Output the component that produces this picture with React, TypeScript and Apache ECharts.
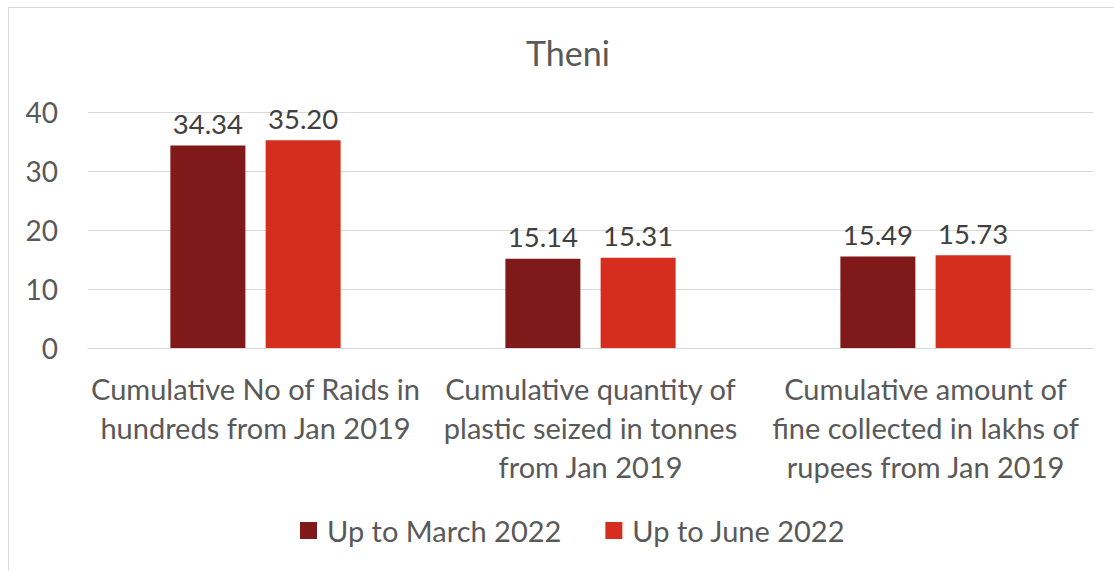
import React, { useEffect, useRef } from "react";
import * as echarts from "echarts";

const categories = [
  "Cumulative No of Raids in\nhundreds from Jan 2019",
  "Cumulative quantity of\nplastic seized in tonnes\nfrom Jan 2019",
  "Cumulative amount of\nfine collected in lakhs of\nrupees from Jan 2019",
];
const seriesNames = ["Up to March 2022", "Up to June 2022"];
const march2022 = [34.34, 15.14, 15.49];
const june2022 = [35.2, 15.31, 15.73];
const yTicks = { min: 0, max: 40, interval: 10 };

const FONT = "Lato, 'Open Sans', sans-serif";
const TEXT = "#595959";

export default function App() {
  const ref = useRef<HTMLDivElement>(null);
  useEffect(() => {
    if (!ref.current) return;
    const chart = echarts.init(ref.current, undefined, { renderer: "svg" });
    chart.setOption({
      animation: false,
      backgroundColor: "#ffffff",
      textStyle: { fontFamily: FONT },
      title: {
        text: "Theni",
        left: 563,
        top: 30,
        textAlign: "center",
        textStyle: { fontFamily: FONT, fontSize: 34, fontWeight: "normal", color: TEXT },
      },
      graphic: [
        { type: "line", shape: { x1: 8, y1: 7.5, x2: 1114, y2: 7.5 }, style: { stroke: "#d9d9d9", lineWidth: 1 } },
        { type: "line", shape: { x1: 8.5, y1: 7, x2: 8.5, y2: 571 }, style: { stroke: "#d9d9d9", lineWidth: 1 } },
      ],
      legend: {
        data: seriesNames,
        bottom: 21,
        left: 295,
        itemWidth: 17,
        itemHeight: 17,
        itemGap: 44,
        icon: "rect",
        textStyle: { fontFamily: FONT, fontSize: 29, color: TEXT, padding: [0, 0, 0, 5] },
      },
      grid: { left: 88, right: 21, top: 112, bottom: 223 },
      xAxis: {
        type: "category",
        data: categories,
        axisTick: { show: false },
        axisLine: { lineStyle: { color: "#d9d9d9", width: 1 } },
        axisLabel: {
          interval: 0,
          margin: 21,
          fontFamily: FONT,
          fontSize: 29,
          lineHeight: 39,
          color: TEXT,
        },
      },
      yAxis: {
        type: "value",
        min: yTicks.min,
        max: yTicks.max,
        interval: yTicks.interval,
        axisLine: { show: false },
        axisTick: { show: false },
        splitLine: { lineStyle: { color: "#d9d9d9", width: 1 } },
        axisLabel: { margin: 30, fontFamily: FONT, fontSize: 28, color: TEXT },
      },
      series: [
        {
          name: seriesNames[0],
          type: "bar",
          data: march2022,
          barWidth: 75,
          barGap: "27%",
          itemStyle: { color: "#801919" },
          label: {
            show: true,
            position: "top",
            distance: 8,
            formatter: (p: any) => p.value.toFixed(2),
            fontFamily: FONT,
            fontSize: 27.5,
            color: "#404040",
          },
        },
        {
          name: seriesNames[1],
          type: "bar",
          data: june2022,
          barWidth: 75,
          itemStyle: { color: "#D62E1E" },
          label: {
            show: true,
            position: "top",
            distance: 8,
            formatter: (p: any) => p.value.toFixed(2),
            fontFamily: FONT,
            fontSize: 27.5,
            color: "#404040",
          },
        },
      ],
    });
    return () => chart.dispose();
  }, []);
  return (
    <div
      ref={ref}
      style={{ position: "absolute", left: 0, top: 0, width: 1114, height: 571 }}
    />
  );
}
